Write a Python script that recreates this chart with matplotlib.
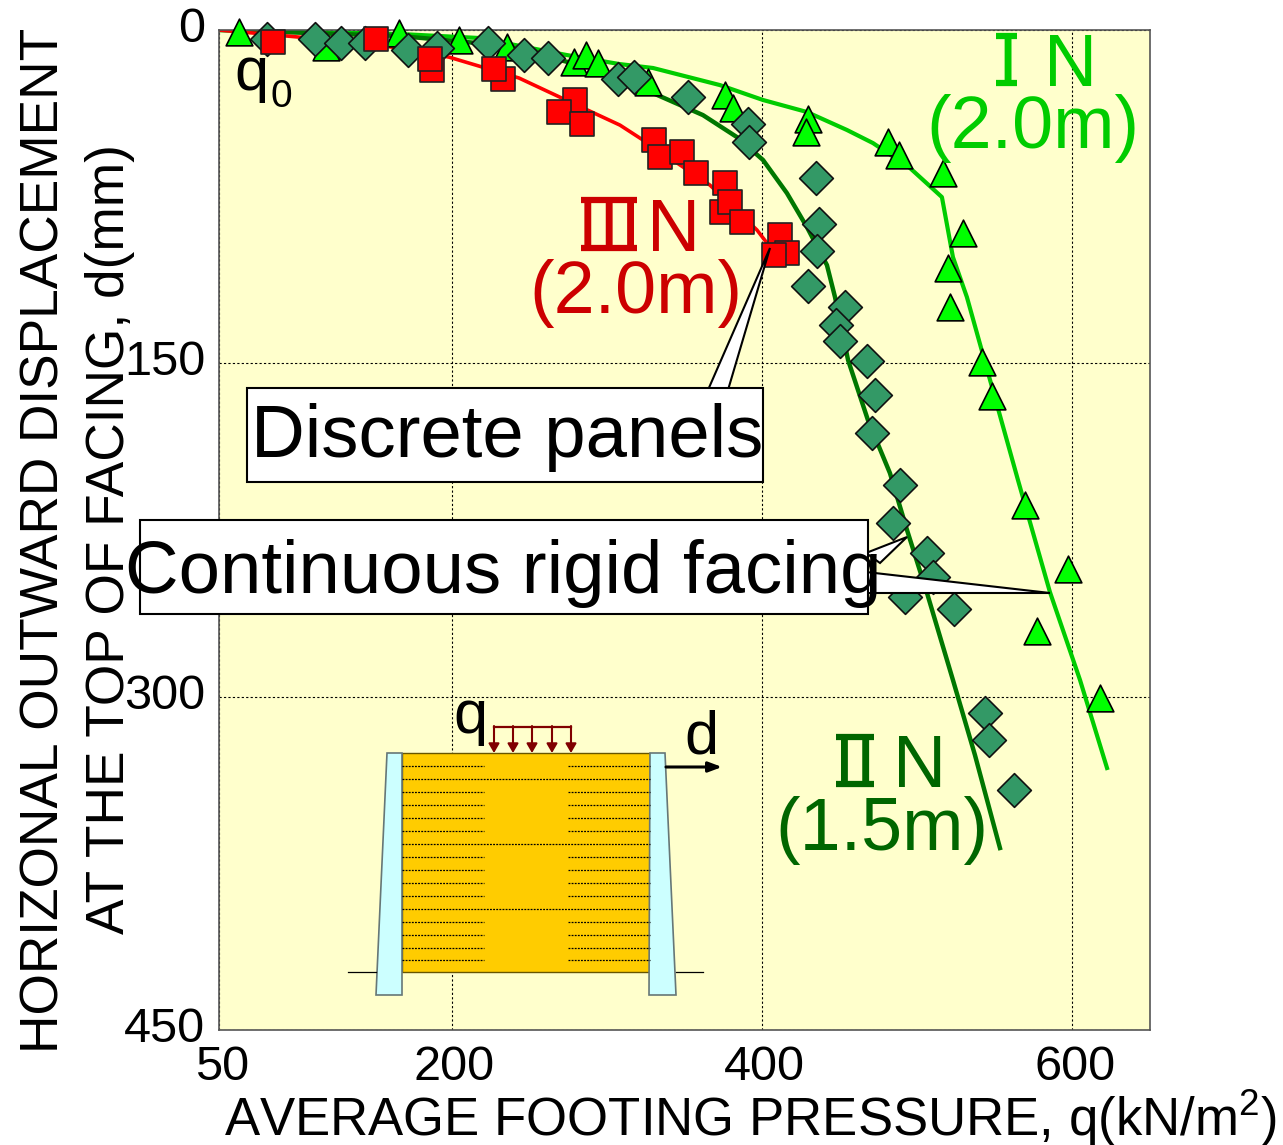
import numpy as np
import matplotlib
matplotlib.use('Agg')
import matplotlib.pyplot as plt
from matplotlib.patches import Polygon, Rectangle
from matplotlib.transforms import ScaledTranslation

plt.rcParams['font.family'] = ['Liberation Sans', 'Noto Sans CJK JP', 'DejaVu Sans']
plt.rcParams['mathtext.default'] = 'regular'

# data, q (kN/m2) and d (mm)
tri_q = [62.9, 119, 166, 204.7, 235.6, 278.8, 286.5, 294.2, 326.5, 376.1, 381.3, 429.6, 428.3,
         481.1, 488.2, 516.6, 529.5, 519.8, 521.1, 541.7, 548.2, 569.4, 597.1, 577.2, 617.8]
tri_d = [0.9, 7.7, 1.4, 4.5, 7.7, 14.4, 11.3, 14.9, 23.4, 29.3, 35.1, 40.1, 45.9,
         50.4, 56.3, 64.4, 91.4, 107.1, 124.7, 149.4, 164.7, 213.8, 242.6, 270.5, 300.6]

dia_q = [80.9, 111.9, 128.6, 144.1, 171.8, 190.5, 223.4, 246.6, 262, 307.1, 317.5, 352.2, 390.9,
         391.6, 434.7, 436.7, 435.4, 429.6, 453.4, 447.6, 450.2, 467.6, 472.8, 470.8, 488.9,
         484.4, 506.3, 510.1, 492.1, 523.7, 543.7, 546.2, 562.3]
dia_d = [4.1, 4.1, 5.9, 5.9, 9, 8.1, 5.9, 11.3, 12.6, 22.1, 21.2, 30.2, 42.3,
         50.4, 66.6, 87.3, 99.5, 115.2, 124.7, 132.8, 139.9, 149, 164.3, 181.4, 204.8,
         221.9, 235.4, 246.2, 255.2, 260.6, 307.4, 319.5, 342]

sq_q = [84.8, 151.2, 187.3, 186, 233, 227.2, 279.4, 269.1, 283.9, 330.3, 334.2, 348.4, 357.4,
        376.1, 374.2, 379.3, 387, 411.5, 416, 407.7]
sq_d = [5.4, 4.1, 18, 13.1, 22, 17.6, 31.5, 36.9, 42.3, 49.5, 57.2, 54.9, 64.4,
        68.9, 81.9, 77.4, 86.4, 92.3, 100.4, 101.3]

line1_q = [50, 166.6, 217.6, 273.6, 307.8, 329.7, 372.9, 400.6, 428.9, 454.7, 471.5, 495.3, 515.9,
           523, 532, 564.9, 585.5, 604.9, 622.3]
line1_d = [0, 1.8, 3.6, 11.2, 15.3, 17.1, 24.8, 31.5, 36.9, 45, 50.9, 62.1, 75.2,
           102.2, 120.2, 202.5, 252.9, 292.5, 332.1]

line2_q = [50, 166.6, 231.1, 295.5, 329.7, 361.9, 383.8, 400.6, 416, 428.9, 441.8, 447, 455.4,
           468.2, 482.4, 493.4, 506.3, 523, 537.2, 553.3]
line2_d = [0, 2.7, 6.8, 18, 28.4, 38.3, 48.2, 58.5, 73.4, 88.7, 105.8, 120.2, 148.5,
           175.5, 199.4, 225, 253.4, 292.5, 326.3, 368.1]

line3_q = [50, 101.6, 161.5, 198.2, 243.3, 273.6, 308.4, 323.2, 366.4, 396.7, 403.2]
line3_d = [0, 3.2, 7.7, 12.2, 21.6, 31.5, 42.8, 49.5, 69.8, 90, 95.9]

x_ticks = [50, 200, 400, 600]
y_ticks = [0, 150, 300, 450]

W, H = 1283, 1145
fig = plt.figure(figsize=(W / 100, H / 100), dpi=100, facecolor='white')
ax = fig.add_axes([219 / W, 1 - 1030 / H, (1150 - 219) / W, 1000 / H])
ax.set_facecolor('#ffffcc')
ax.set_xlim(50, 650)
ax.set_ylim(450, 0)
ax.set_xticks(x_ticks)
ax.set_yticks(y_ticks)
ax.tick_params(length=0, labelsize=35, pad=10)
ax.tick_params(axis='x', pad=11)
ax.grid(True, color='black', linestyle=(0, (2, 2)), linewidth=0.8)
ax.set_axisbelow(True)
for s in ax.spines.values():
    s.set_color('#555555')
    s.set_linewidth(1.2)
shift = ScaledTranslation(0, 4 / 72, fig.dpi_scale_trans)
for lab in ax.get_yticklabels():
    lab.set_transform(lab.get_transform() + shift)
xshift = ScaledTranslation(2 / 72, 0, fig.dpi_scale_trans)
for lab in ax.get_xticklabels():
    lab.set_transform(lab.get_transform() + xshift)

ax.plot(line1_q, line1_d, color='#00cc00', lw=3, zorder=2)
ax.plot(line2_q, line2_d, color='#007700', lw=3.2, zorder=2)
ax.plot(line3_q, line3_d, color='#ff0000', lw=2.6, zorder=2)
ax.scatter(tri_q, tri_d, marker='^', s=370, c='#00ff00', edgecolors='black', linewidths=1.2, zorder=3, clip_on=False)
ax.scatter(dia_q, dia_d, marker='D', s=295, c='#339966', edgecolors='#111111', linewidths=1.2, zorder=4, clip_on=False)
ax.scatter(sq_q, sq_d, marker='s', s=300, c='#ff0000', edgecolors='#222222', linewidths=1.2, zorder=5, clip_on=False)

# overlay in pixels for the callouts, sketch and labels
ov = fig.add_axes([0, 0, 1, 1])
ov.set_xlim(0, W)
ov.set_ylim(H, 0)
ov.axis('off')
ov.patch.set_alpha(0)

def wedge(pts):
    ov.add_patch(Polygon(pts, closed=True, fc='white', ec='black', lw=1.5, zorder=6))

def numeral(txt, x, x0, x1, top, base, col):
    # roman numeral with its bars top and bottom
    ov.text(x, base, txt, fontsize=52, color=col, family='Noto Sans CJK JP', ha='center', va='baseline', zorder=8)
    ov.plot([x0, x1], [top + 3, top + 3], color=col, lw=4.5, solid_capstyle='butt', zorder=8)
    ov.plot([x0, x1], [base - 3, base - 3], color=col, lw=4.5, solid_capstyle='butt', zorder=8)

wedge([(708, 390), (770, 248), (728, 390)])
ov.add_patch(Rectangle((247, 388), 516, 94, fc='white', ec='black', lw=1.5, zorder=7))
ov.text(507, 438, 'Discrete panels', fontsize=53.6, ha='center', va='center', zorder=8)

wedge([(866, 553), (907, 537), (880, 563)])
wedge([(866, 572), (1050, 593), (866, 593)])
ov.add_patch(Rectangle((140, 520), 728, 94, fc='white', ec='black', lw=1.5, zorder=7))
ov.text(503, 573, 'Continuous rigid facing', fontsize=53.6, ha='center', va='center', zorder=8)

# sketch of the wall
ov.add_patch(Rectangle((402, 753), 248, 219, fc='#ffcc00', ec='#665500', lw=1, zorder=3))
ov.add_patch(Polygon([(387, 753), (402, 753), (402, 995), (376, 995)], closed=True, fc='#ccffff', ec='#667777', lw=1.2, zorder=3))
ov.add_patch(Polygon([(650, 753), (665, 753), (676, 995), (649, 995)], closed=True, fc='#ccffff', ec='#667777', lw=1.2, zorder=3))
ov.plot([348, 376], [972, 972], color='black', lw=0.9, zorder=3)
ov.plot([676, 703], [972, 972], color='black', lw=0.9, zorder=3)
for y in [766, 779, 792, 805, 818, 831, 844, 857, 870, 883, 896, 909, 922, 935, 948, 960]:
    if y in (779, 844, 909):
        ov.plot([402, 650], [y, y], color='black', lw=0.9, ls=(0, (1.5, 1)), zorder=4)
    else:
        ov.plot([402, 484], [y, y], color='black', lw=0.9, ls=(0, (1.5, 1)), zorder=4)
        ov.plot([568, 650], [y, y], color='black', lw=0.9, ls=(0, (1.5, 1)), zorder=4)
ov.plot([494, 571], [727, 727], color='#800000', lw=1.6, zorder=4)
for x in [494, 513, 532, 552, 571]:
    ov.annotate('', xy=(x, 753), xytext=(x, 726),
                arrowprops=dict(arrowstyle='-|>,head_width=0.32,head_length=0.55', color='#800000', lw=1.5, shrinkA=0, shrinkB=0), zorder=4)
ov.annotate('', xy=(722, 767), xytext=(666, 767),
            arrowprops=dict(arrowstyle='-|>,head_width=0.3,head_length=0.8', color='black', lw=2.2, shrinkA=0, shrinkB=0), zorder=4)
ov.text(470, 733, 'q', fontsize=44, ha='center', va='baseline', zorder=8)
ov.text(701, 753, 'd', fontsize=44, ha='center', va='baseline', zorder=8)

# series labels
ov.text(251, 90, 'q', fontsize=44, ha='center', va='baseline', zorder=8)
ov.text(281, 107, '0', fontsize=28, ha='center', va='baseline', zorder=8)
numeral('Ⅰ', 1007, 996, 1017, 33, 86, '#00cc00')
ov.text(1071, 86, 'N', fontsize=53, color='#00cc00', ha='center', va='baseline', zorder=8)
ov.text(1033, 148, '(2.0m)', fontsize=53, color='#00cc00', ha='center', va='baseline', zorder=8)
numeral('Ⅲ', 609, 581, 637, 197, 251, '#cc0000')
ov.text(674, 251, 'N', fontsize=53, color='#cc0000', ha='center', va='baseline', zorder=8)
ov.text(636, 313, '(2.0m)', fontsize=53, color='#cc0000', ha='center', va='baseline', zorder=8)
numeral('Ⅱ', 855, 836, 874, 734, 787, '#006600')
ov.text(920, 787, 'N', fontsize=53, color='#006600', ha='center', va='baseline', zorder=8)
ov.text(882, 850, '(1.5m)', fontsize=53, color='#006600', ha='center', va='baseline', zorder=8)

# axis titles
ov.text(750, 1118, r'AVERAGE FOOTING PRESSURE, q(kN/m$^{2}$)', fontsize=38, ha='center', va='center')
ov.text(45, 540, 'HORIZONAL OUTWARD DISPLACEMENT', fontsize=38.3, rotation=90, ha='center', va='center')
ov.text(110, 539, 'AT THE TOP OF FACING, d(mm)', fontsize=38.3, rotation=90, ha='center', va='center')

fig.savefig('out.png', dpi=100)
